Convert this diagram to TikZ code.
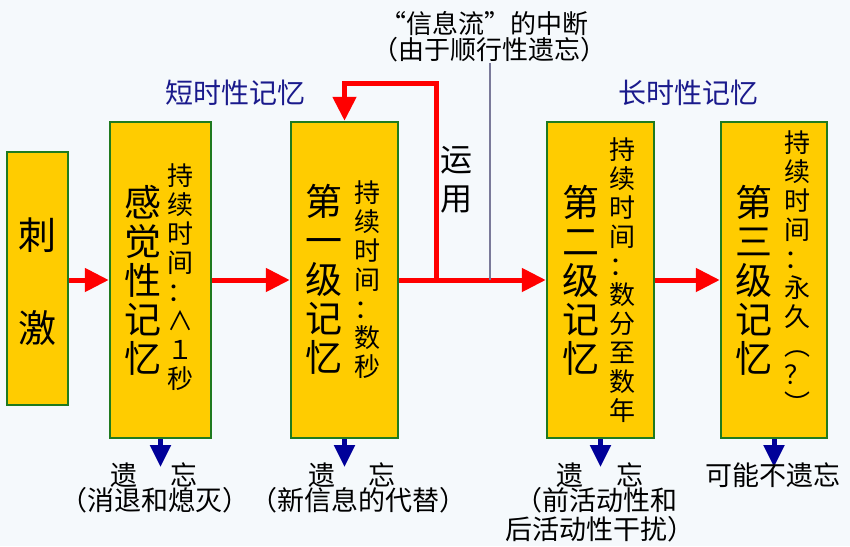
\documentclass[tikz,border=0pt]{standalone}
\usepackage{fontspec}
\setmainfont{Noto Sans CJK SC}
\usetikzlibrary{arrows.meta}
\definecolor{bg}{HTML}{F5F9FC}
\definecolor{boxfill}{HTML}{FFCC00}
\definecolor{boxline}{HTML}{1F7A1F}
\definecolor{navy}{HTML}{1A1A8C}
\definecolor{arrblue}{HTML}{000099}
\definecolor{grayline}{HTML}{7A7A9A}
\definecolor{arrred}{HTML}{FF0000}
\begin{document}
\begin{tikzpicture}[x=1pt,y=-1pt,
  memb/.style={draw=boxline, line width=2.5pt, fill=boxfill, inner sep=0pt},
  maincol/.style={font=\fontsize{37}{39}\selectfont, align=center, inner sep=0pt},
  subcol/.style={font=\fontsize{26}{29}\selectfont, align=center, inner sep=0pt},
  redarr/.style={draw=arrred, line width=5pt, -{Triangle[length=24pt,width=23pt]}},
  bluearr/.style={draw=arrblue, line width=5pt, -{Triangle[length=22pt,width=20pt]}},
  bluelab/.style={text=navy, font=\fontsize{28}{30}\selectfont, inner sep=0pt},
  lab/.style={font=\fontsize{27}{28}\selectfont, inner sep=0pt},
  toplab/.style={font=\fontsize{26}{28}\selectfont, inner sep=0pt}
]
\fill[bg] (0,0) rectangle (850,546);
\useasboundingbox (0,0) rectangle (850,546);

% boxes
\node[memb, minimum width=61pt, minimum height=253pt] (s) at (37.5,278.5) {};
\node[memb, minimum width=101pt, minimum height=316pt] (b1) at (160.5,280) {};
\node[memb, minimum width=107pt, minimum height=316pt] (b2) at (344.5,280) {};
\node[memb, minimum width=107pt, minimum height=316pt] (b3) at (600.5,280) {};
\node[memb, minimum width=106pt, minimum height=316pt] (b4) at (774,280) {};

% box texts
\node[font=\fontsize{38}{40}\selectfont, inner sep=0pt] (s1) at (37,235) {刺};
\node[font=\fontsize{38}{40}\selectfont, inner sep=0pt] (s2) at (37,328) {激};

\node[maincol] (m1) at (143,280) {感\\觉\\性\\记\\忆};
\node[subcol] (t1) at (180,277) {持\\续\\时\\间\\：\\∧\\１\\秒};

\node[maincol] (m2) at (324,279) {第\\一\\级\\记\\忆};
\node[subcol] (t2) at (367,280) {持\\续\\时\\间\\：\\数\\秒};

\node[maincol] (m3) at (581,280) {第\\二\\级\\记\\忆};
\node[subcol] (t3) at (622,280) {持\\续\\时\\间\\：\\数\\分\\至\\数\\年};

\node[maincol] (m4) at (754,280) {第\\三\\级\\记\\忆};
\node[subcol] (t4) at (797,272) {持\\续\\时\\间\\：\\永\\久\\︵\\？\\︶};

% red flow
\draw[redarr] (s.east |- 0,280) -- (b1.west);
\draw[redarr] (b1.east) -- (b2.west);
\draw[redarr] (b2.east) -- (b3.west);
\draw[redarr] (b3.east) -- (b4.west);

\coordinate (j) at (436,280);
\coordinate (jt) at (436,83);
\coordinate (lt) at (b2.north |- jt);
\draw[redarr, line join=miter] (j) -- (jt) -- (lt) -- (b2.north);

% interruption line
\coordinate (g1) at (490,63);
\coordinate (g2) at (490,280);
\draw[grayline, line width=1.3pt] (g1) -- (g2);

\node[font=\fontsize{32}{34}\selectfont, inner sep=0pt] (y1) at (456,160) {运};
\node[font=\fontsize{32}{34}\selectfont, inner sep=0pt] (y2) at (456,200) {用};

% top labels
\node[toplab] (top1) at (484,24) {“信息流”的中断};
\node[toplab] (top2) at (489,50) {（由于顺行性遗忘）};
\node[bluelab] (short) at (235,93) {短时性记忆};
\node[bluelab] (long) at (688,93) {长时性记忆};

% forgetting arrows
\coordinate (f1) at (b1.south |- 0,467);
\coordinate (f2) at (b2.south |- 0,467);
\coordinate (f3) at (b3.south |- 0,467);
\coordinate (f4) at (b4.south |- 0,467);
\draw[bluearr] (b1.south) -- (f1);
\draw[bluearr] (b2.south) -- (f2);
\draw[bluearr] (b3.south) -- (f3);
\draw[bluearr] (b4.south) -- (f4);

% bottom labels
\node[lab] (l1a) at (154,475) {遗\hspace{33pt}忘};
\node[lab] (l1b) at (155,500) {（消退和熄灭）};
\node[lab] (l2a) at (352,475) {遗\hspace{33pt}忘};
\node[lab] (l2b) at (358,500) {（新信息的代替）};
\node[lab] (l3a) at (600,475) {遗\hspace{33pt}忘};
\node[lab] (l3b) at (596,500) {（前活动性和};
\node[lab] (l3c) at (600,529) {后活动性干扰）};
\node[lab] (l4a) at (773,475) {可能不遗忘};
\end{tikzpicture}
\end{document}
